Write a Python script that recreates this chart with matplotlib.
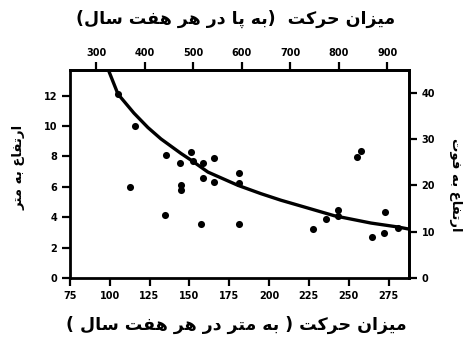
import matplotlib
matplotlib.use("Agg")
import matplotlib.pyplot as plt

# داده ها (متر)
move_m = [105.2, 115.8, 112.7, 135.3, 134.7, 144.1, 144.7, 144.7, 151.0, 152.0,
          158.5, 158.5, 157.3, 165.5, 165.5, 181.0, 181.0, 181.0, 227.6, 235.8,
          243.0, 243.0, 255.5, 258.0, 264.7, 272.3, 273.0, 281.0]
height_m = [12.1, 10.0, 6.0, 8.1, 4.15, 7.55, 6.1, 5.8, 8.3, 7.7,
            7.6, 6.55, 3.55, 7.9, 6.3, 6.9, 6.25, 3.55, 3.2, 3.9,
            4.5, 4.1, 7.95, 8.35, 2.7, 2.96, 4.35, 3.3]

# خط برازش (خوانده شده از تصویر)
curve_x = [99.5, 105.2, 115.2, 124, 132.2, 144.7, 151, 161.7, 180.5, 195,
           207.5, 222, 241, 264, 281, 288]
curve_y = [13.6, 12.1, 10.85, 9.9, 9.15, 8.2, 7.76, 6.97, 6.1, 5.55,
           5.12, 4.68, 4.1, 3.62, 3.36, 3.22]

xticks_m = [75, 100, 125, 150, 175, 200, 225, 250, 275]
yticks_m = [0, 2, 4, 6, 8, 10, 12]
xticks_ft = [300, 400, 500, 600, 700, 800, 900]
yticks_ft = [0, 10, 20, 30, 40]

title_top = "میزان حرکت  (به پا در هر هفت سال)"
title_bottom = "میزان حرکت ( به متر در هر هفت سال )"
ylabel_left = "ارتفاع به متر"
ylabel_right = "ارتفاع به فوت"

FT = 3.2808

# شکل دادن حروف فارسی (matplotlib خودش اتصال حروف را انجام نمی دهد)
FORMS = {
    'ا': (0xFE8D, 0xFE8E, None, None), 'ب': (0xFE8F, 0xFE90, 0xFE91, 0xFE92),
    'پ': (0xFB56, 0xFB57, 0xFB58, 0xFB59), 'ت': (0xFE95, 0xFE96, 0xFE97, 0xFE98),
    'ح': (0xFEA1, 0xFEA2, 0xFEA3, 0xFEA4), 'د': (0xFEA9, 0xFEAA, None, None),
    'ر': (0xFEAD, 0xFEAE, None, None), 'ز': (0xFEAF, 0xFEB0, None, None),
    'س': (0xFEB1, 0xFEB2, 0xFEB3, 0xFEB4), 'ع': (0xFEC9, 0xFECA, 0xFECB, 0xFECC),
    'ف': (0xFED1, 0xFED2, 0xFED3, 0xFED4), 'ک': (0xFB8E, 0xFB8F, 0xFB90, 0xFB91),
    'ل': (0xFEDD, 0xFEDE, 0xFEDF, 0xFEE0), 'م': (0xFEE1, 0xFEE2, 0xFEE3, 0xFEE4),
    'ن': (0xFEE5, 0xFEE6, 0xFEE7, 0xFEE8), 'و': (0xFEED, 0xFEEE, None, None),
    'ه': (0xFEE9, 0xFEEA, 0xFEEB, 0xFEEC), 'ی': (0xFBFC, 0xFBFD, 0xFBFE, 0xFBFF),
}


def fa(s):
    out = []
    for i, c in enumerate(s):
        if c not in FORMS:
            out.append({'(': ')', ')': '('}.get(c, c))
            continue
        prev = s[i - 1] if i > 0 else ''
        nxt = s[i + 1] if i + 1 < len(s) else ''
        jp = prev in FORMS and FORMS[prev][2] is not None
        jn = nxt in FORMS and FORMS[c][2] is not None
        f = FORMS[c]
        if jp and jn:
            code = f[3]
        elif jp:
            code = f[1]
        elif jn:
            code = f[2]
        else:
            code = f[0]
        out.append(chr(code))
    return ''.join(reversed(out))


plt.rcParams['font.family'] = ['DejaVu Sans']
plt.rcParams['font.weight'] = 'bold'

fig = plt.figure(figsize=(4.72, 3.4), dpi=100)
ax = fig.add_axes([0.148, 0.182, 0.719, 0.612])

ax.plot(curve_x, curve_y, color='black', lw=2.4, solid_capstyle='butt', zorder=3)
ax.scatter(move_m, height_m, s=26, color='black', zorder=4, linewidths=0)

ax.set_xlim(75, 288)
ax.set_ylim(0, 13.68)
ax.set_xticks(xticks_m)
ax.set_yticks(yticks_m)

for sp in ax.spines.values():
    sp.set_linewidth(2)

ax.tick_params(direction='out', length=6, width=1.6, labelsize=7, pad=3)

top = ax.secondary_xaxis('top', functions=(lambda x: x * FT, lambda x: x / FT))
top.set_xticks(xticks_ft)
top.tick_params(direction='out', length=6, width=1.6, labelsize=7, pad=3)
top.spines['top'].set_linewidth(2)

right = ax.secondary_yaxis('right', functions=(lambda y: y * FT, lambda y: y / FT))
right.set_yticks(yticks_ft)
right.tick_params(direction='out', length=6, width=1.6, labelsize=7, pad=3)
right.spines['right'].set_linewidth(2)

for lab in ax.get_xticklabels() + ax.get_yticklabels() + top.get_xticklabels() + right.get_yticklabels():
    lab.set_fontweight('heavy')

fig.text(0.5, 0.945, fa(title_top), ha='center', va='center', fontsize=12.5, fontweight='bold')
fig.text(0.5, 0.045, fa(title_bottom), ha='center', va='center', fontsize=12.5, fontweight='bold')
fig.text(0.04, 0.509, fa(ylabel_left), ha='center', va='center', rotation=90, fontsize=9.5, fontweight='bold')
fig.text(0.965, 0.456, fa(ylabel_right), ha='center', va='center', rotation=270, fontsize=9.5, fontweight='bold')

fig.savefig('out.png', dpi=100)
